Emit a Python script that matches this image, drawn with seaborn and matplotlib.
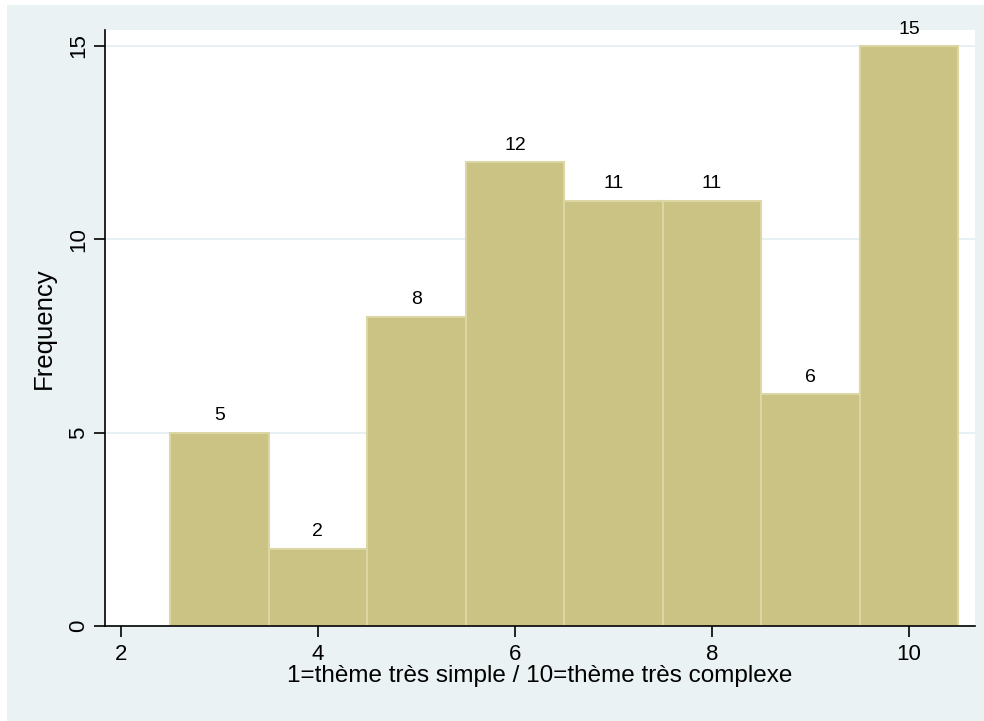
import matplotlib
matplotlib.use("Agg")
import matplotlib.pyplot as plt
import seaborn as sns
import pandas as pd
from matplotlib.patches import Rectangle

# histogram data (score -> count)
scores = [3, 4, 5, 6, 7, 8, 9, 10]
counts = [5, 2, 8, 12, 11, 11, 6, 15]
x_ticks = [2, 4, 6, 8, 10]
y_ticks = [0, 5, 10, 15]

df = pd.DataFrame({"score": scores, "count": counts})

sns.set_theme(style="white")
plt.rcParams["font.family"] = ["Liberation Sans", "DejaVu Sans"]
plt.rcParams["text.color"] = "black"
plt.rcParams["axes.labelcolor"] = "black"
plt.rcParams["xtick.color"] = "black"
plt.rcParams["ytick.color"] = "black"

bg = "#EAF2F3"
fig = plt.figure(figsize=(9.84, 7.21), dpi=100)
fig.patch.set_facecolor("white")
fig.patches.append(Rectangle((7 / 984, 0), 1, 1 - 5 / 721, transform=fig.transFigure,
                             facecolor=bg, edgecolor="none", zorder=-10))

ax = fig.add_axes([105 / 984, 95 / 721, 870 / 984, 596 / 721])
ax.set_facecolor("white")

sns.histplot(data=df, x="score", weights="count", discrete=True, ax=ax,
             color="#CBC383", edgecolor="#DCD5A4", linewidth=1.5, alpha=1)

for c in ax.containers:
    ax.bar_label(c, labels=[str(v) for v in counts], padding=6, fontsize=14, color="black")

ax.set_xlim(1.84, 10.67)
ax.set_ylim(0, 15.41)
ax.set_xticks(x_ticks)
ax.set_yticks(y_ticks)
ax.yaxis.grid(True, color="#E3EDF0", linewidth=1.2)
ax.set_axisbelow(True)

for s in ["top", "right"]:
    ax.spines[s].set_visible(False)
for s in ["left", "bottom"]:
    ax.spines[s].set_color("black")
    ax.spines[s].set_linewidth(1.2)

ax.tick_params(axis="both", direction="out", length=8, width=1.2, color="black",
               labelsize=16, bottom=True, left=True)
ax.tick_params(axis="x", pad=5)
plt.setp(ax.get_yticklabels(), rotation=90, va="center")

ax.set_xlabel("1=thème très simple / 10=thème très complexe", fontsize=17.5, labelpad=0)
ax.set_ylabel("Frequency", fontsize=18.5, labelpad=9)

fig.savefig("out.png", dpi=100, facecolor=fig.get_facecolor())
